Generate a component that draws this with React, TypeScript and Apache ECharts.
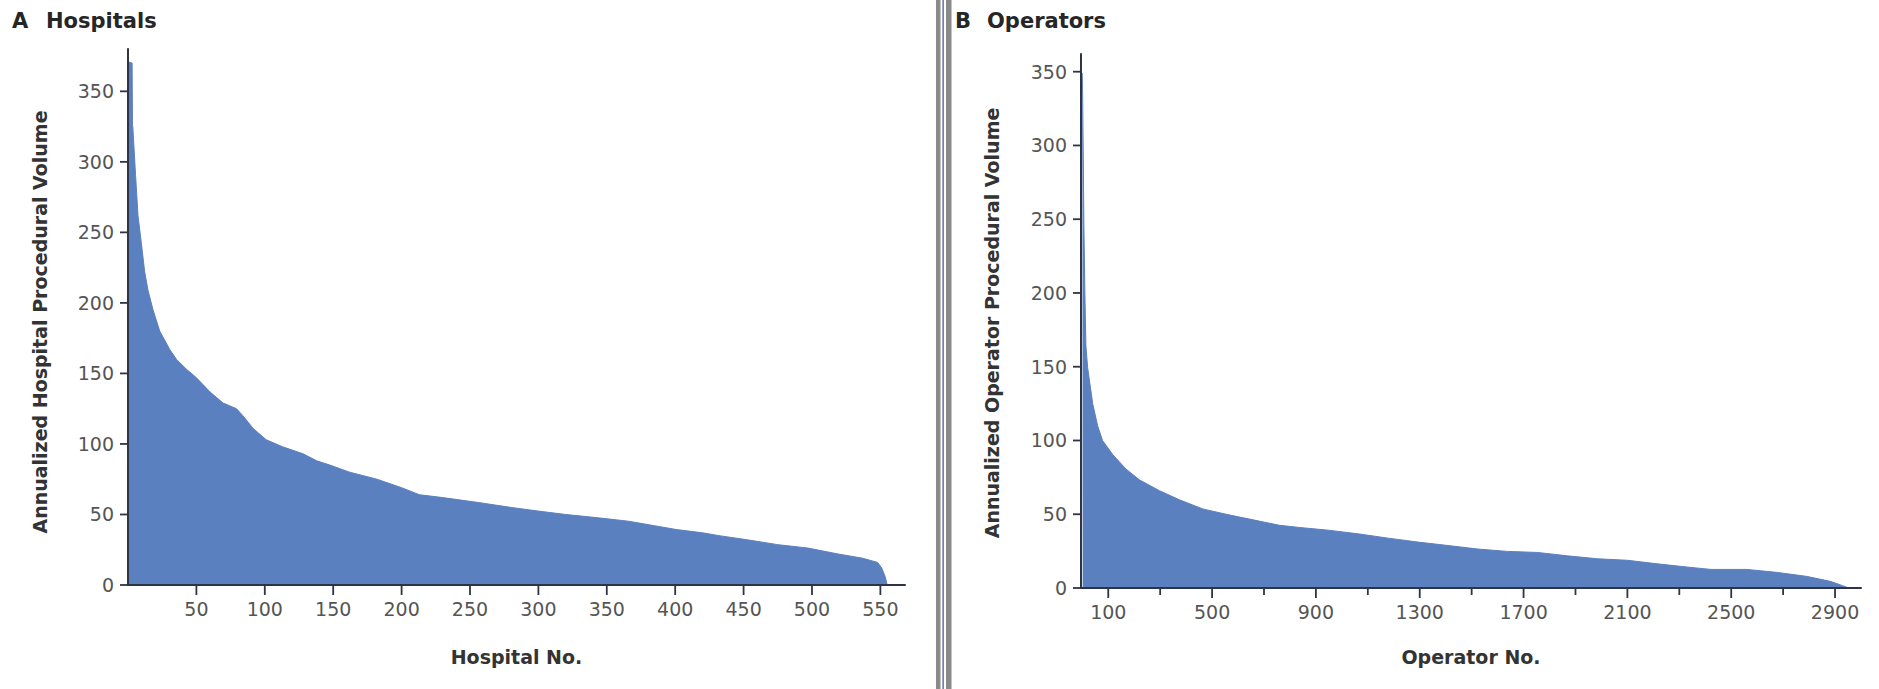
import { useEffect, useRef } from "react";
import * as echarts from "echarts";

// Panel A – hospitals ranked by annualized procedural volume (rank, volume)
const hospitalNo = [0, 3, 3.3, 3.5, 5.5, 7.3, 9.8, 12.2, 14.6, 18.3, 23.2, 30.5, 35.4, 42.7, 50, 59.8, 69.5, 79.3, 84, 91.5, 101, 113, 128, 138, 147.6, 162, 182, 200, 213, 230, 256, 280, 300, 320, 344, 366, 385, 401, 420, 432, 453, 475, 497, 519, 537, 548, 551, 553.5, 555];
const hospitalVolume = [371, 370, 326, 325, 291, 262, 242, 222, 209, 195, 180, 167, 160, 153, 147, 137, 129, 125, 120, 111, 103, 98, 93, 88, 85, 80, 75, 69, 64, 62, 58.5, 55, 52.4, 50, 47.6, 45.2, 42, 39.3, 37, 35, 32, 28.6, 26.2, 22, 19, 16, 12, 6, 0];

// Panel B – operators ranked by annualized procedural volume (rank, volume)
const operatorNo = [0, 1.5, 3.5, 6, 10, 14, 20.5, 40, 59, 78, 117, 168, 220, 297, 374, 464, 554, 658, 760, 838, 948, 1063, 1178, 1294, 1409, 1524, 1639, 1754, 1869, 1985, 2100, 2215, 2330, 2422, 2560, 2675, 2790, 2882, 2929, 2952];
const operatorVolume = [349, 330, 297, 248, 199, 164, 149.5, 125, 110, 100, 90.5, 80.7, 73.3, 66, 59.8, 53.6, 50, 46.2, 42.5, 41, 39.2, 36.7, 33.8, 31.1, 28.8, 26.4, 24.8, 24.1, 21.8, 19.8, 18.8, 16.4, 14.2, 12.6, 12.6, 10.6, 7.9, 4.5, 1.6, 0];

const hospitalTicks = [50, 100, 150, 200, 250, 300, 350, 400, 450, 500, 550];
const operatorLabelTicks = [100, 500, 900, 1300, 1700, 2100, 2500, 2900];
const operatorMinorTicks = [300, 700, 1100, 1500, 1900, 2300, 2700];
const volumeTicks = [0, 50, 100, 150, 200, 250, 300, 350];

const FONT = "DejaVu Sans";
const AXIS_COLOR = "#2f3444";
const FILL = "#5b80bf";
const LABEL_COLOR = "#555555";
const NAME_COLOR = "#333333";

const plain = (v: number) => String(v);

function xAxisMain(gridIndex: number, min: number, max: number, ticks: number[], name: string, nameGap: number) {
  return {
    gridIndex,
    type: "value",
    position: "bottom",
    min,
    max,
    z: 5,
    name,
    nameLocation: "middle",
    nameGap,
    nameTextStyle: { fontFamily: FONT, fontSize: 19, fontWeight: "bold", color: NAME_COLOR, verticalAlign: "middle" },
    axisLine: { show: true, onZero: false, lineStyle: { color: AXIS_COLOR, width: 2 } },
    axisTick: { show: false },
    axisLabel: { show: true, customValues: ticks, margin: 14, fontFamily: FONT, fontSize: 19, color: LABEL_COLOR, formatter: plain },
    splitLine: { show: false },
  };
}

function yAxisMain(gridIndex: number, max: number) {
  return {
    gridIndex,
    type: "value",
    position: "left",
    min: 0,
    max,
    z: 5,
    axisLine: { show: true, onZero: false, lineStyle: { color: AXIS_COLOR, width: 2 } },
    axisTick: { show: false },
    axisLabel: { show: true, customValues: volumeTicks, margin: 14, fontFamily: FONT, fontSize: 19, color: LABEL_COLOR, formatter: plain },
    splitLine: { show: false },
  };
}

// tick marks drawn through the axes' own scales
function tickSeries(axisIndex: number, points: number[][], dir: "down" | "left", len: number) {
  return {
    type: "custom",
    coordinateSystem: "cartesian2d",
    xAxisIndex: axisIndex,
    yAxisIndex: axisIndex,
    clip: false,
    silent: true,
    z: 10,
    data: points,
    renderItem: (_params: any, api: any) => {
      const p = api.coord([api.value(0), api.value(1)]);
      const shape =
        dir === "down"
          ? { x1: p[0], y1: p[1], x2: p[0], y2: p[1] + len }
          : { x1: p[0] - len, y1: p[1], x2: p[0], y2: p[1] };
      return { type: "line", shape, style: { stroke: AXIS_COLOR, lineWidth: 1.8 } };
    },
  };
}

export default function App() {
  const ref = useRef<HTMLDivElement>(null);

  useEffect(() => {
    if (!ref.current) return;
    const chart = echarts.init(ref.current, null, { renderer: "svg" });

    const hospitalData = hospitalNo.map((x, i) => [x, hospitalVolume[i]]);
    const operatorData = operatorNo.map((x, i) => [x, operatorVolume[i]]);
    const hMin = 0;
    const oMin = -5;

    const option: any = {
      animation: false,
      backgroundColor: "#ffffff",
      grid: [
        { left: 128, right: 974, top: 49, bottom: 104 },
        { left: 1081, right: 18, top: 54, bottom: 101 },
      ],
      xAxis: [
        xAxisMain(0, hMin, 568, hospitalTicks, "Hospital No.", 72),
        xAxisMain(1, oMin, 3000, operatorLabelTicks, "Operator No.", 69),
      ],
      yAxis: [yAxisMain(0, 380), yAxisMain(1, 362)],
      series: [
        {
          type: "line",
          xAxisIndex: 0,
          yAxisIndex: 0,
          data: hospitalData,
          symbol: "none",
          lineStyle: { color: FILL, width: 1 },
          areaStyle: { color: FILL, opacity: 1 },
        },
        {
          type: "line",
          xAxisIndex: 1,
          yAxisIndex: 1,
          data: operatorData,
          symbol: "none",
          lineStyle: { color: FILL, width: 1 },
          areaStyle: { color: FILL, opacity: 1 },
        },
        tickSeries(0, hospitalTicks.map((v) => [v, 0]), "down", 10),
        tickSeries(0, volumeTicks.map((v) => [hMin, v]), "left", 8),
        tickSeries(1, operatorLabelTicks.map((v) => [v, 0]), "down", 10),
        tickSeries(1, operatorMinorTicks.map((v) => [v, 0]), "down", 7),
        tickSeries(1, volumeTicks.map((v) => [oMin, v]), "left", 8),
      ],
      graphic: [
        { type: "text", left: 12, top: 10, style: { text: "A", fontFamily: FONT, fontSize: 21, fontWeight: "bold", fill: "#262626" } },
        { type: "text", left: 46, top: 10, style: { text: "Hospitals", fontFamily: FONT, fontSize: 21, fontWeight: "bold", fill: "#262626" } },
        { type: "text", left: 955, top: 10, style: { text: "B", fontFamily: FONT, fontSize: 21, fontWeight: "bold", fill: "#262626" } },
        { type: "text", left: 987, top: 10, style: { text: "Operators", fontFamily: FONT, fontSize: 21, fontWeight: "bold", fill: "#262626" } },
        {
          type: "text",
          x: 40,
          y: 322,
          rotation: Math.PI / 2,
          style: { text: "Annualized Hospital Procedural Volume", fontFamily: FONT, fontSize: 19, fontWeight: "bold", fill: NAME_COLOR, align: "center", verticalAlign: "middle" },
        },
        {
          type: "text",
          x: 992,
          y: 323,
          rotation: Math.PI / 2,
          style: { text: "Annualized Operator Procedural Volume", fontFamily: FONT, fontSize: 19, fontWeight: "bold", fill: NAME_COLOR, align: "center", verticalAlign: "middle" },
        },
        { type: "rect", shape: { x: 936, y: 0, width: 4.5, height: 689 }, style: { fill: "#8a8a8a" } },
        { type: "rect", shape: { x: 942.5, y: 0, width: 1.2, height: 689 }, style: { fill: "#3c4d8c" } },
        { type: "rect", shape: { x: 946, y: 0, width: 5.5, height: 689 }, style: { fill: "#8a8a8a" } },
      ],
    };

    chart.setOption(option);
    return () => chart.dispose();
  }, []);

  return (
    <div
      ref={ref}
      style={{ position: "absolute", left: 0, top: 0, width: 1879, height: 689, background: "#ffffff" }}
    />
  );
}
